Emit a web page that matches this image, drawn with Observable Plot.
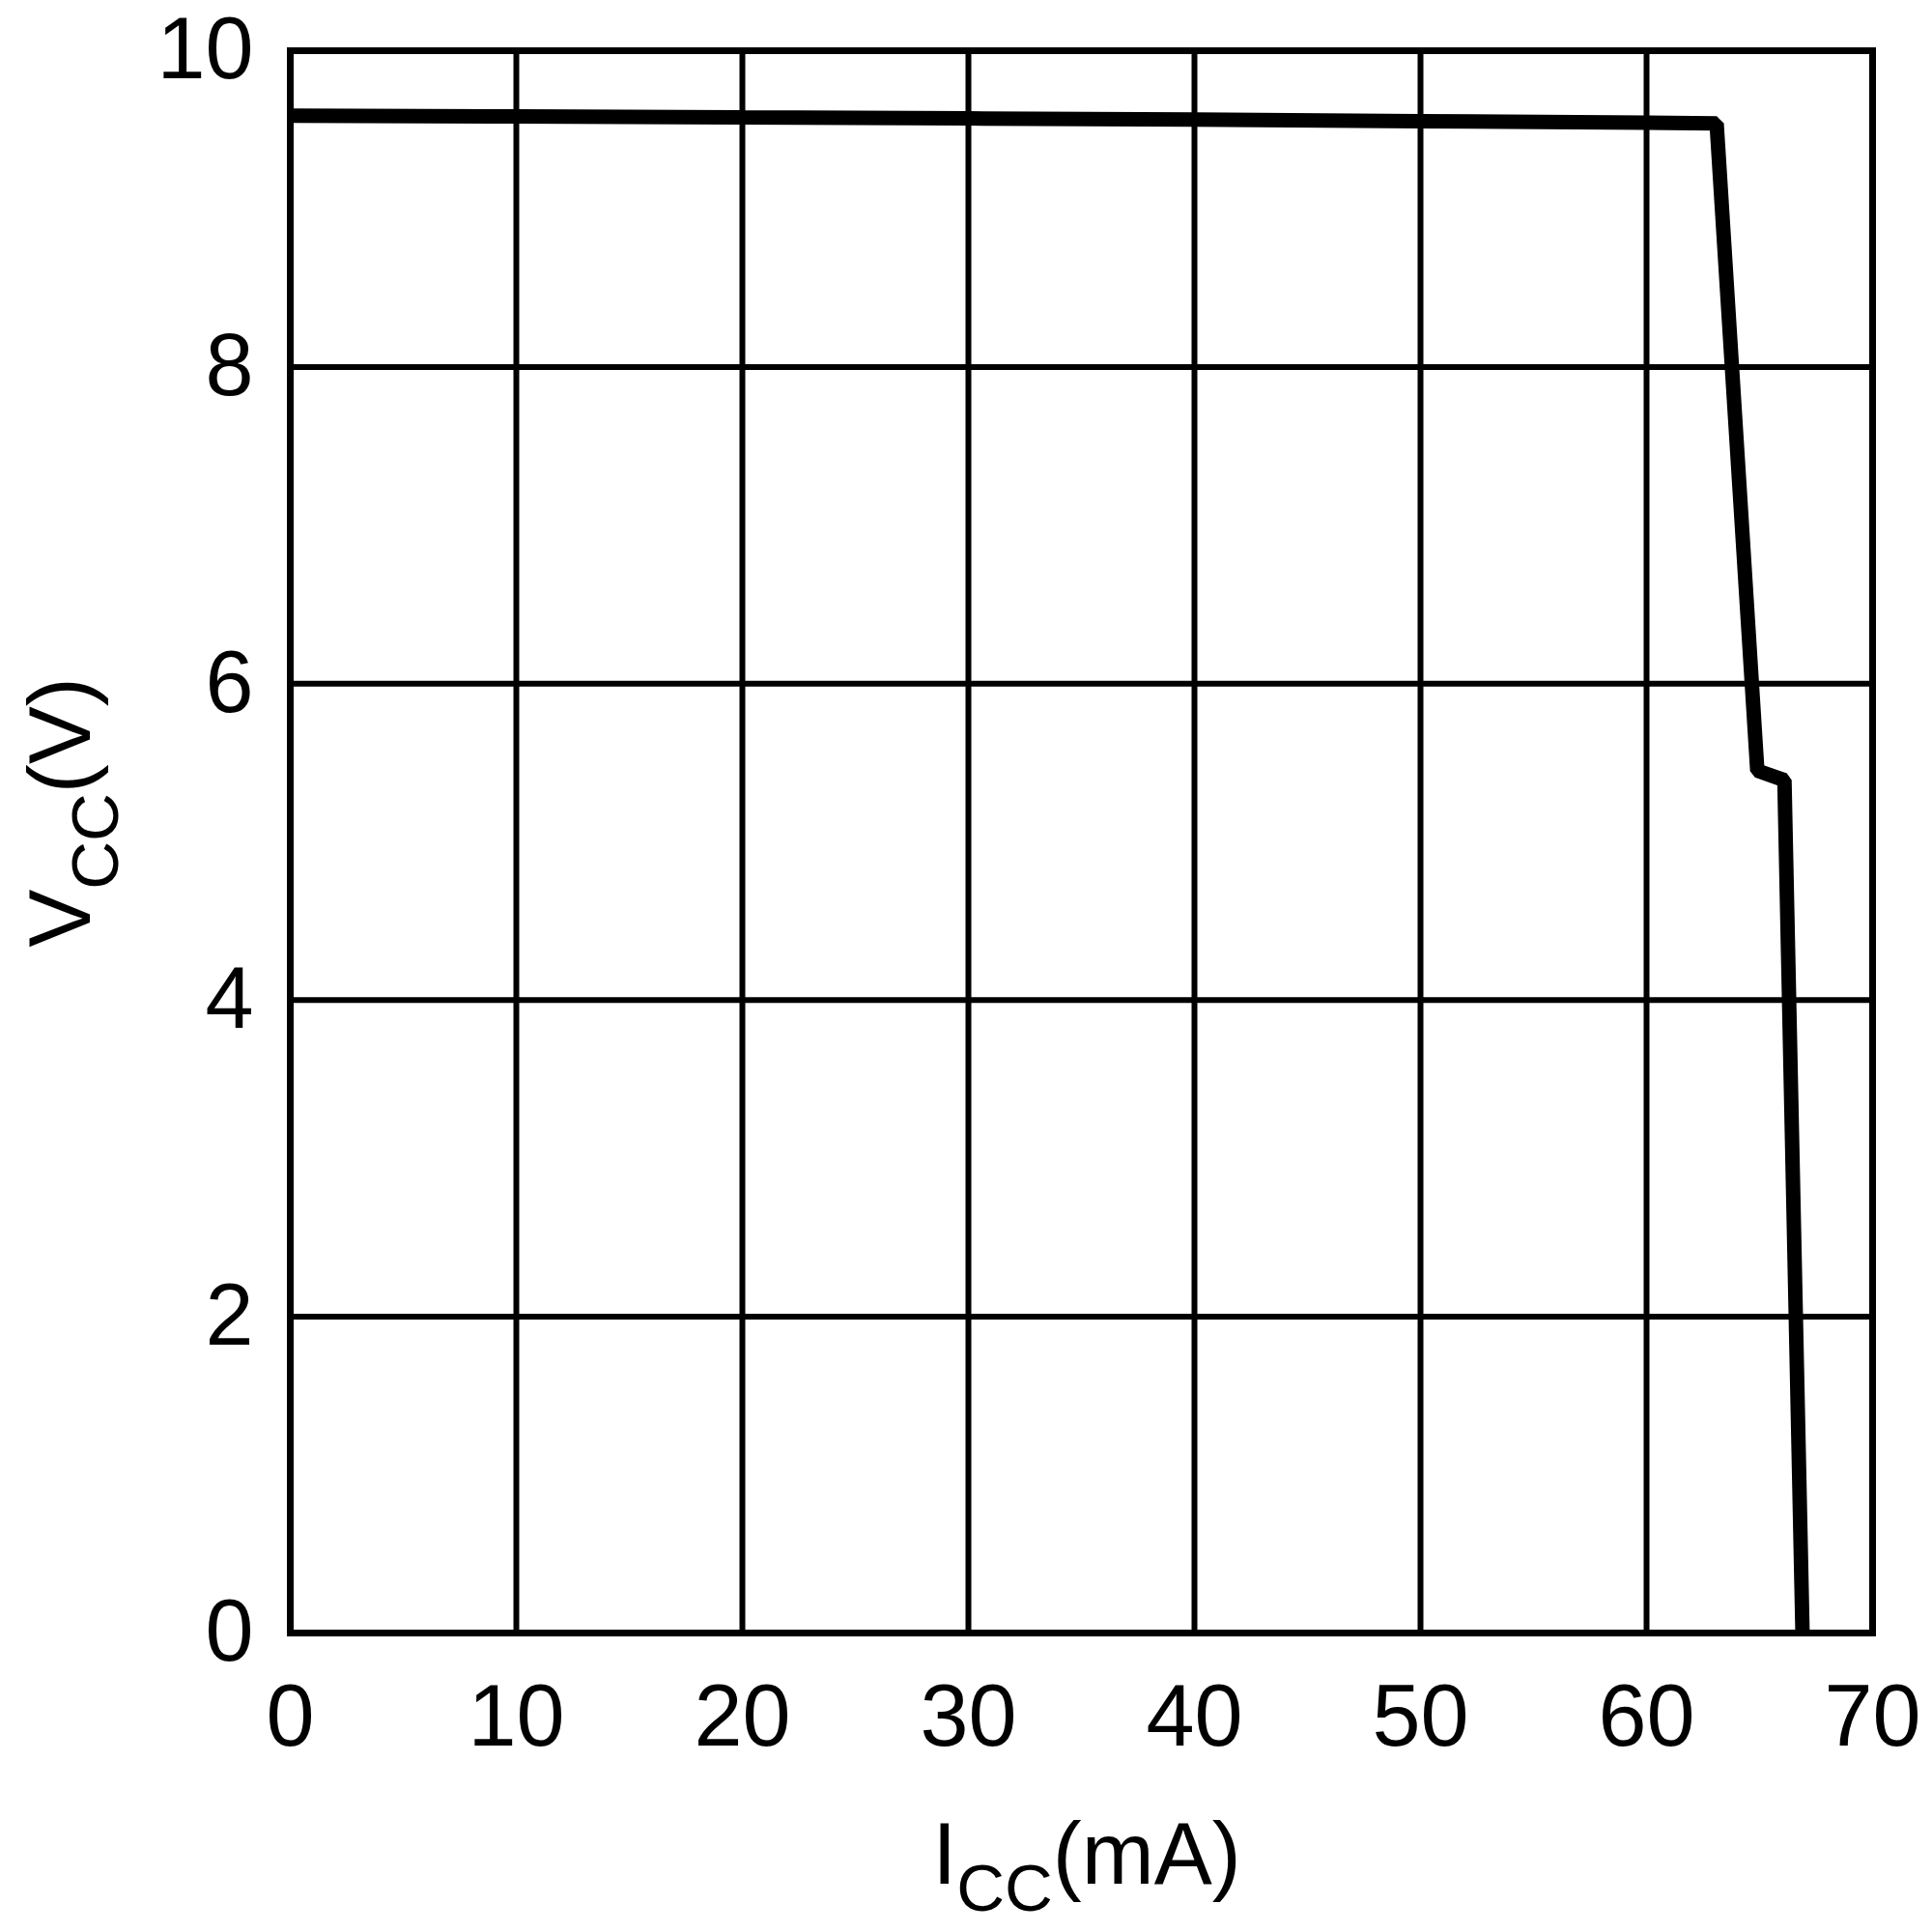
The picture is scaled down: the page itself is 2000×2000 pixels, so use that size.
<!DOCTYPE html>
<html>
<head>
<meta charset="utf-8">
<script src="https://cdn.jsdelivr.net/npm/d3@7"></script>
<script src="https://cdn.jsdelivr.net/npm/@observablehq/plot@0.6"></script>
<style>
  html, body { margin: 0; padding: 0; background: white; }
</style>
</head>
<body>
<div id="chart"></div>
<script>
const Icc = [0, 10, 20, 30, 40, 50, 60, 63.1, 64.9, 66.1, 66.9];
const Vcc = [9.59, 9.585, 9.578, 9.572, 9.565, 9.555, 9.545, 9.54, 5.45, 5.39, 0];
const xTicks = [0, 10, 20, 30, 40, 50, 60, 70];
const yTicks = [0, 2, 4, 6, 8, 10];

const data = Icc.map((x, i) => ({x, y: Vcc[i]}));

const chart = Plot.plot({
  width: 2000,
  height: 2000,
  marginLeft: 300,
  marginRight: 62,
  marginTop: 52,
  marginBottom: 310,
  style: {fontFamily: "'Liberation Sans', Arial, sans-serif", fontSize: "90px", color: "black", background: "white"},
  x: {domain: [0, 70], ticks: xTicks, tickSize: 0, tickPadding: 53, label: null},
  y: {domain: [0, 10], ticks: yTicks, tickSize: 0, tickPadding: 38, label: null},
  marks: [
    Plot.ruleX(xTicks, {stroke: "black", strokeWidth: 6}),
    Plot.ruleY(yTicks, {stroke: "black", strokeWidth: 6}),
    Plot.frame({stroke: "black", strokeWidth: 7}),
    Plot.line(data, {x: "x", y: "y", stroke: "black", strokeWidth: 15, strokeLinejoin: "miter", strokeLinecap: "butt"})
  ]
});

const svg = d3.select(chart);
// X axis label: I_CC(mA)
const xl = svg.append("text")
  .attr("x", 1125).attr("y", 1950)
  .attr("text-anchor", "middle")
  .attr("font-family", "'Liberation Sans', Arial, sans-serif")
  .attr("font-size", 90)
  .attr("fill", "black");
xl.append("tspan").text("I");
xl.append("tspan").attr("dy", 28).attr("font-size", 69).text("CC");
xl.append("tspan").attr("dy", -28).text("(mA)");

// Y axis label: V_CC(V)
const yl = svg.append("text")
  .attr("transform", "translate(93,841) rotate(-90)")
  .attr("text-anchor", "middle")
  .attr("font-family", "'Liberation Sans', Arial, sans-serif")
  .attr("font-size", 90)
  .attr("fill", "black");
yl.append("tspan").text("V");
yl.append("tspan").attr("dy", 29).attr("font-size", 69).text("CC");
yl.append("tspan").attr("dy", -29).text("(V)");

document.getElementById("chart").appendChild(chart);
</script>
</body>
</html>
